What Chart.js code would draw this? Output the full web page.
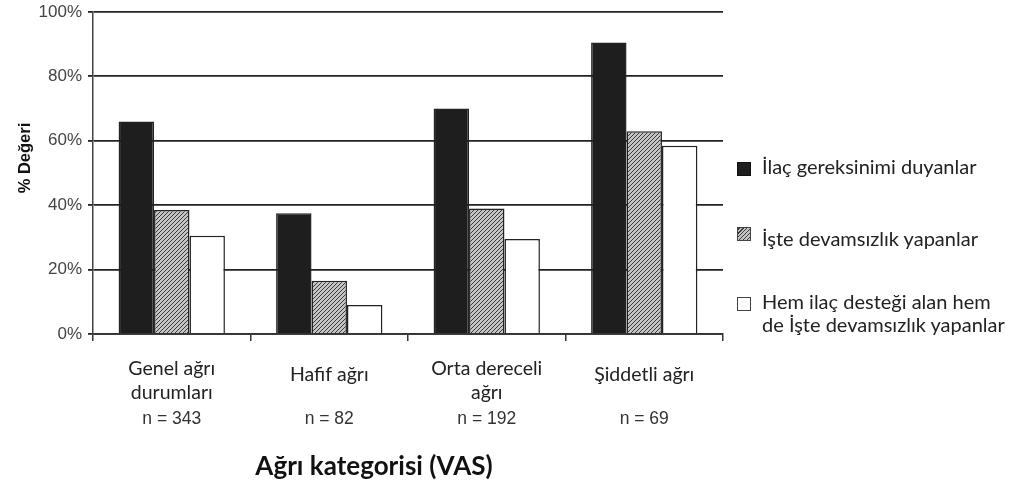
<!DOCTYPE html>
<html>
<head>
<meta charset="utf-8">
<script src="https://cdn.jsdelivr.net/npm/chart.js@4.4.0/dist/chart.umd.min.js"></script>
<style>
  html, body { margin: 0; padding: 0; background: #fff; }
  #wrap { position: relative; width: 1016px; height: 485px; }
  #legend { position: absolute; left: 737px; top: 0; font-family: Lato, "Open Sans", sans-serif; font-size: 20px; color: #222; }
  .sw { position: absolute; left: 0; width: 14px; height: 14px; box-sizing: border-box; }
  .txt { position: absolute; left: 25px; line-height: 23px; }
</style>
</head>
<body>
<div id="wrap">
  <canvas id="painChart" width="1016" height="485"></canvas>
  <div id="legend"></div>
</div>
<script>
// Kategoriler ve örneklem sayıları
const categories = ['Genel ağrı durumları', 'Hafif ağrı', 'Orta dereceli ağrı', 'Şiddetli ağrı'];
const categoryLines = [['Genel ağrı', 'durumları'], ['Hafif ağrı'], ['Orta dereceli', 'ağrı'], ['Şiddetli ağrı']];
const sampleSizes = [343, 82, 192, 69];

// Seri değerleri (%)
const ilacGereksinimi = [66, 37.5, 70, 90.5];
const isteDevamsizlik = [38.5, 16.5, 39, 63];
const hemIlacHemDevamsizlik = [30.5, 9, 29.5, 58.5];

const seriesLabels = ['İlaç gereksinimi duyanlar', 'İşte devamsızlık yapanlar', 'Hem ilaç desteği alan hem de İşte devamsızlık yapanlar'];
const yTicks = [0, 20, 40, 60, 80, 100];

// Hatch pattern for the second series
const makeHatch = () => {
    const c = document.createElement('canvas');
    c.width = 4; c.height = 4;
    const g = c.getContext('2d');
    g.fillStyle = '#c4c4c4';
    g.fillRect(0, 0, 4, 4);
    g.strokeStyle = '#3a3a3a';
    g.lineWidth = 1;
    g.beginPath();
    g.moveTo(0, 4); g.lineTo(4, 0);
    g.moveTo(-1, 1); g.lineTo(1, -1);
    g.moveTo(3, 5); g.lineTo(5, 3);
    g.stroke();
    return g.createPattern(c, 'repeat');
};

const ctx = document.getElementById('painChart').getContext('2d');
const hatch = makeHatch();

// Category labels, n values, axis titles
const labelsPlugin = {
    id: 'labelsPlugin',
    afterDraw(chart) {
        const c = chart.ctx;
        const xs = chart.scales.x;
        c.save();
        c.textAlign = 'center';
        c.textBaseline = 'middle';
        categoryLines.forEach((lines, i) => {
            const x = xs.getPixelForValue(i);
            c.fillStyle = '#222';
            c.font = '19.5px Lato, "Open Sans", sans-serif';
            const y0 = lines.length === 1 ? 375 : 369;
            lines.forEach((ln, j) => c.fillText(ln, x, y0 + j * 24));
            c.fillStyle = '#333';
            c.font = '17.5px "Liberation Sans", Arial, sans-serif';
            c.fillText('n = ' + sampleSizes[i], x, 419);
        });
        c.fillStyle = '#111';
        c.font = 'bold 26px Lato, "Open Sans", sans-serif';
        c.fillText('Ağrı kategorisi (VAS)', 374, 467);
        c.translate(25, 158);
        c.rotate(-Math.PI / 2);
        c.font = 'bold 16.5px "Liberation Sans", Arial, sans-serif';
        c.fillText('% Değeri', 0, 0);
        c.restore();
    }
};

new Chart(ctx, {
    type: 'bar',
    data: {
        labels: categories,
        datasets: [{
            label: seriesLabels[0],
            data: ilacGereksinimi,
            backgroundColor: '#1e1e1e',
            borderColor: '#222',
            borderWidth: 1.5
        }, {
            label: seriesLabels[1],
            data: isteDevamsizlik,
            backgroundColor: hatch,
            borderColor: '#222',
            borderWidth: 1.5
        }, {
            label: seriesLabels[2],
            data: hemIlacHemDevamsizlik,
            backgroundColor: '#fff',
            borderColor: '#222',
            borderWidth: 1.5
        }]
    },
    options: {
        responsive: false,
        animation: false,
        layout: { padding: { top: 12, right: 293, left: 0, bottom: 0 } },
        datasets: { bar: { categoryPercentage: 0.675, barPercentage: 1.0 } },
        plugins: { legend: { display: false }, tooltip: { enabled: false } },
        scales: {
            x: {
                offset: true,
                grid: { display: true, drawOnChartArea: false, drawTicks: true, tickLength: 7, color: '#333', lineWidth: 1.5, offset: true },
                border: { display: true, color: '#333', width: 1.8 },
                ticks: { display: false },
                afterFit: (scale) => { scale.height = 151; }
            },
            y: {
                min: 0,
                max: 100,
                afterBuildTicks: (scale) => { scale.ticks = yTicks.map(v => ({ value: v })); },
                grid: { color: '#222', lineWidth: 1.8, tickLength: 5 },
                border: { display: true, color: '#444', width: 1.5 },
                ticks: {
                    color: '#444',
                    padding: 6,
                    font: { family: '"Liberation Sans", Arial, sans-serif', size: 17 },
                    callback: (v) => v + '%'
                },
                afterFit: (scale) => { scale.width = 93; }
            }
        }
    },
    plugins: [labelsPlugin, {
        id: 'fixTop',
        afterLayout(chart) {
            // keep the plot top where the reference has it
            const a = chart.chartArea;
            const ys = chart.scales.y;
            const d = a.top - 12;
            if (d > 0) {
                a.top = 12;
                ys.top = 12;
                ys.height = ys.bottom - 12;
                ys.configure();
            }
        }
    }]
});

// HTML legend
const legendEl = document.getElementById('legend');
const swatches = [
    { style: 'background:#1e1e1e;border:1px solid #111;', top: 162, textTop: 155, lines: ['İlaç gereksinimi duyanlar'] },
    { style: 'background:repeating-linear-gradient(-45deg,#c4c4c4 0 1.5px,#3a3a3a 1.5px 2.8px);border:1px solid #444;', top: 227, textTop: 227, lines: ['İşte devamsızlık yapanlar'] },
    { style: 'background:#fff;border:1.5px solid #444;', top: 297, textTop: 290, lines: ['Hem ilaç desteği alan hem', 'de İşte devamsızlık yapanlar'] }
];
swatches.forEach((s) => {
    const sw = document.createElement('div');
    sw.className = 'sw';
    sw.style.cssText = s.style + 'top:' + s.top + 'px;';
    legendEl.appendChild(sw);
    const t = document.createElement('div');
    t.className = 'txt';
    t.style.top = s.textTop + 'px';
    t.innerHTML = s.lines.map(l => '<div style="white-space:nowrap">' + l + '</div>').join('');
    legendEl.appendChild(t);
});
</script>
</body>
</html>
